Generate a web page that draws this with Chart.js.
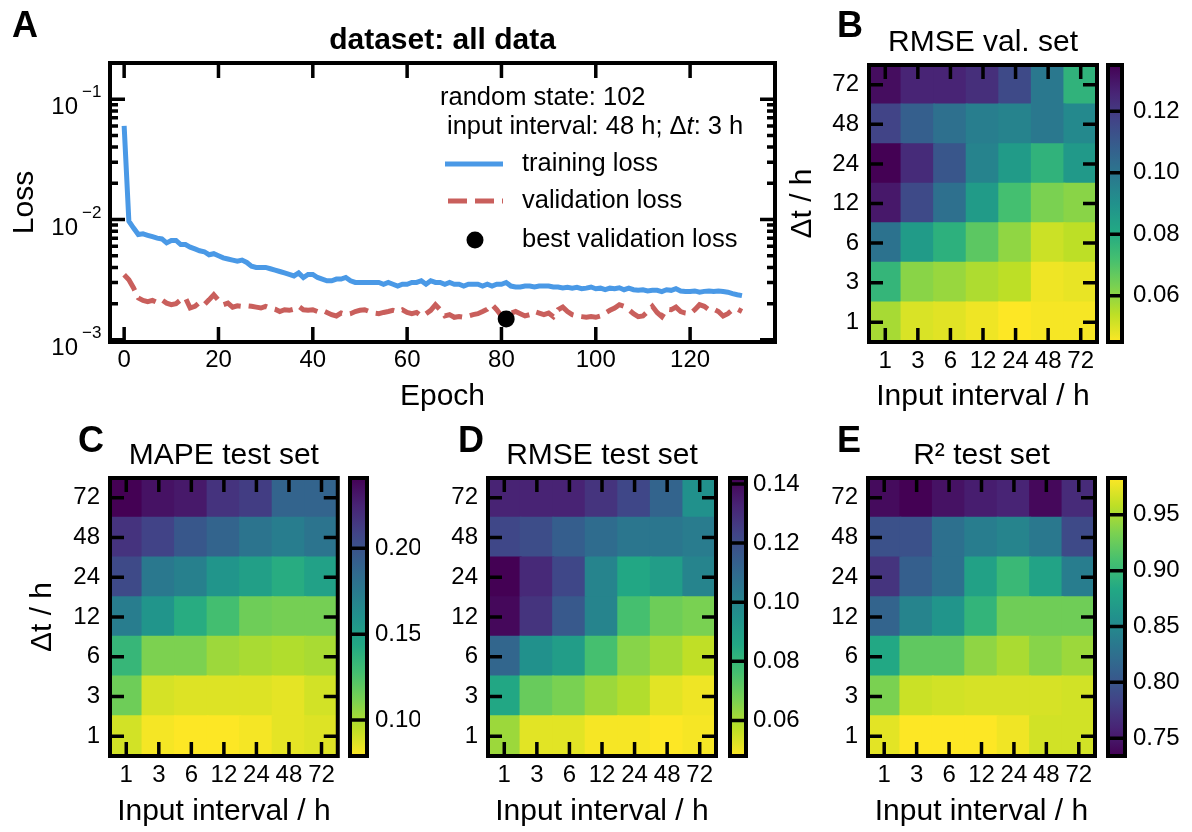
<!DOCTYPE html>
<html>
<head>
<meta charset="utf-8">
<script src="https://cdn.jsdelivr.net/npm/chart.js@4.4.1/dist/chart.umd.min.js"></script>
<style>
  body { margin: 0; background: #fff; }
  #fig { position: relative; width: 1192px; height: 832px; overflow: hidden; background: #fff; }
  #fig canvas { position: absolute; }
  .tag { position: absolute; font: bold 36px "Liberation Sans", Arial, sans-serif; line-height: 36px; color: #000; }
</style>
</head>
<body>
<div id="fig">
  <canvas id="lossChart" width="800" height="420" style="left:0;top:0"></canvas>
  <canvas id="heatB" width="320" height="420" style="left:780px;top:0"></canvas>
  <canvas id="barB" width="92" height="420" style="left:1100px;top:0"></canvas>
  <canvas id="heatC" width="320" height="412" style="left:20px;top:420px"></canvas>
  <canvas id="barC" width="80" height="412" style="left:340px;top:420px"></canvas>
  <canvas id="heatD" width="300" height="412" style="left:420px;top:420px"></canvas>
  <canvas id="barD" width="80" height="412" style="left:720px;top:420px"></canvas>
  <canvas id="heatE" width="298" height="412" style="left:800px;top:420px"></canvas>
  <canvas id="barE" width="94" height="412" style="left:1098px;top:420px"></canvas>
  <canvas id="overlay" width="1192" height="832" style="left:0;top:0;pointer-events:none"></canvas>
  <div class="tag" style="left:12px;top:7px">A</div>
  <div class="tag" style="left:837px;top:7px">B</div>
  <div class="tag" style="left:78px;top:422px">C</div>
  <div class="tag" style="left:458px;top:422px">D</div>
  <div class="tag" style="left:837px;top:422px">E</div>
</div>
<script>
// ---- panel A data: loss per epoch (epoch = index) ----
const trainLoss = [
  0.060, 0.0097, 0.0085, 0.0075, 0.0076, 0.0074, 0.0072, 0.0070, 0.0069, 0.0064,
  0.0067, 0.0067, 0.0062, 0.0062, 0.0059, 0.0057, 0.0055, 0.0054, 0.0051, 0.0052,
  0.0050, 0.0048, 0.0047, 0.0046, 0.0045, 0.0046, 0.0044, 0.0041, 0.0040, 0.0040,
  0.0040, 0.0039, 0.0038, 0.0037, 0.0036, 0.0035, 0.0034, 0.0036, 0.0033, 0.0035,
  0.0035, 0.0033, 0.0032, 0.0031, 0.0031, 0.0032, 0.0032, 0.0033, 0.0031, 0.0030,
  0.0030, 0.0030, 0.0030, 0.0030, 0.0030, 0.0029, 0.0030, 0.0029, 0.0028, 0.0029,
  0.0029, 0.0030, 0.0030, 0.0031, 0.0029, 0.0031, 0.0030, 0.0030, 0.0029, 0.0030,
  0.0029, 0.0029, 0.0028, 0.0029, 0.0029, 0.0029, 0.0028, 0.0029, 0.0028, 0.0029,
  0.0029, 0.0030, 0.0028, 0.00275, 0.00275, 0.0028, 0.0028, 0.00275, 0.0028, 0.0028,
  0.0028, 0.00275, 0.00275, 0.0027, 0.00273, 0.00269, 0.00273, 0.00266, 0.00269, 0.00275,
  0.00266, 0.00269, 0.00261, 0.00269, 0.00266, 0.00271, 0.00261, 0.00269, 0.00261, 0.00258,
  0.00261, 0.00255, 0.00258, 0.00258, 0.00252, 0.00261, 0.00258, 0.00266, 0.00255, 0.00252,
  0.00252, 0.00255, 0.00249, 0.00253, 0.00255, 0.00252, 0.00255, 0.00252, 0.00249, 0.00242,
  0.00237, 0.00233
];
const valLoss = [
  0.00348, 0.00316, 0.0027, 0.00223, 0.00213, 0.00208, 0.00213, 0.00205, 0.00215, 0.00202,
  0.00196, 0.0020, 0.00215, 0.00223, 0.00184, 0.0019, 0.00205, 0.00196, 0.00215, 0.00237,
  0.00213, 0.00196, 0.00202, 0.00187, 0.00192, 0.0019, 0.00192, 0.0019, 0.00187, 0.00184,
  0.0019, 0.00184, 0.0018, 0.00172, 0.00178, 0.00176, 0.0018, 0.0019, 0.00178, 0.00176,
  0.00178, 0.00172, 0.00176, 0.00169, 0.00162, 0.00158, 0.00167, 0.00162, 0.00165, 0.00172,
  0.00176, 0.00178, 0.00172, 0.00167, 0.00165, 0.00169, 0.00172, 0.00176, 0.00172, 0.00178,
  0.00169, 0.00165, 0.00169, 0.00158, 0.00165, 0.00176, 0.00196, 0.00178, 0.00158, 0.00162,
  0.00154, 0.00156, 0.00154, 0.00158, 0.00162, 0.00165, 0.00172, 0.0018, 0.00196, 0.00178,
  0.00158, 0.00149, 0.00167, 0.00172, 0.00165, 0.00158, 0.00162, 0.00172, 0.00167, 0.00162,
  0.00167, 0.00156, 0.00178, 0.00187, 0.00172, 0.00162, 0.00158, 0.00156, 0.00154, 0.00156,
  0.00154, 0.00158, 0.00167, 0.00176, 0.00184, 0.00196, 0.0019, 0.00178, 0.00165, 0.00156,
  0.00158, 0.00172, 0.0019, 0.00169, 0.00156, 0.0018, 0.00178, 0.00187, 0.00172, 0.00167,
  0.00165, 0.00178, 0.00196, 0.0019, 0.00178, 0.0018, 0.00172, 0.00158, 0.00165, 0.00178,
  0.0018, 0.00172
];
const epochTicks = [0, 20, 40, 60, 80, 100, 120];
const randomState = 102;
const chosenInterval = 48;
const chosenDeltaT = 3;

// ---- heatmap data: rows follow deltaT (1 h at the bottom), columns follow inputIntervals ----
const inputIntervals = ['1', '3', '6', '12', '24', '48', '72'];
const deltaT = ['1', '3', '6', '12', '24', '48', '72'];

const rmseVal = [
  [0.057, 0.050, 0.049, 0.047, 0.045, 0.046, 0.046],
  [0.076, 0.061, 0.059, 0.056, 0.054, 0.047, 0.048],
  [0.101, 0.086, 0.078, 0.068, 0.060, 0.052, 0.054],
  [0.129, 0.115, 0.102, 0.086, 0.072, 0.063, 0.061],
  [0.135, 0.124, 0.111, 0.095, 0.086, 0.077, 0.087],
  [0.117, 0.108, 0.102, 0.097, 0.095, 0.099, 0.093],
  [0.132, 0.126, 0.126, 0.123, 0.115, 0.099, 0.077]
];
const mapeTest = [
  [0.090, 0.081, 0.079, 0.079, 0.081, 0.085, 0.087],
  [0.115, 0.089, 0.087, 0.087, 0.087, 0.085, 0.090],
  [0.134, 0.111, 0.111, 0.103, 0.100, 0.098, 0.100],
  [0.173, 0.157, 0.141, 0.128, 0.115, 0.113, 0.113],
  [0.205, 0.176, 0.171, 0.157, 0.150, 0.141, 0.149],
  [0.217, 0.209, 0.197, 0.189, 0.179, 0.173, 0.179],
  [0.241, 0.233, 0.230, 0.217, 0.212, 0.189, 0.189]
];
const rmseTest = [
  [0.062, 0.052, 0.052, 0.049, 0.049, 0.048, 0.049],
  [0.086, 0.070, 0.067, 0.062, 0.059, 0.052, 0.050],
  [0.111, 0.095, 0.090, 0.076, 0.065, 0.061, 0.057],
  [0.140, 0.128, 0.116, 0.100, 0.076, 0.069, 0.067],
  [0.142, 0.131, 0.122, 0.100, 0.086, 0.090, 0.100],
  [0.122, 0.120, 0.114, 0.109, 0.105, 0.105, 0.103],
  [0.133, 0.133, 0.133, 0.128, 0.122, 0.112, 0.095]
];
const r2Test = [
  [0.973, 0.983, 0.983, 0.983, 0.978, 0.966, 0.966],
  [0.933, 0.963, 0.966, 0.968, 0.968, 0.968, 0.966],
  [0.883, 0.921, 0.921, 0.941, 0.951, 0.938, 0.946],
  [0.814, 0.846, 0.863, 0.896, 0.928, 0.928, 0.928],
  [0.771, 0.809, 0.826, 0.876, 0.901, 0.878, 0.839],
  [0.796, 0.796, 0.826, 0.839, 0.846, 0.834, 0.789],
  [0.741, 0.734, 0.746, 0.754, 0.759, 0.739, 0.764]
];
const rmseValTicks = [0.06, 0.08, 0.10, 0.12];
const mapeTicks = [0.10, 0.15, 0.20];
const rmseTestTicks = [0.06, 0.08, 0.10, 0.12, 0.14];
const r2Ticks = [0.75, 0.80, 0.85, 0.90, 0.95];

const FONT = '"Liberation Sans", Arial, sans-serif';
Chart.defaults.font.family = FONT;
Chart.defaults.color = '#000';

const VIRIDIS = ['#440154', '#482475', '#414487', '#355f8d', '#2a788e', '#21918c',
                 '#22a884', '#44bf70', '#7ad151', '#bddf26', '#fde725'];
function viridis(t) {
  t = Math.max(0, Math.min(1, t));
  const p = t * 10, i = Math.min(9, Math.floor(p)), f = p - i;
  const a = VIRIDIS[i], b = VIRIDIS[i + 1];
  const c = k => Math.round(parseInt(a.substr(k, 2), 16) * (1 - f) + parseInt(b.substr(k, 2), 16) * f);
  return 'rgb(' + c(1) + ',' + c(3) + ',' + c(5) + ')';
}

function isPow10(v) {
  const l = Math.log10(v);
  return Math.abs(l - Math.round(l)) < 1e-9;
}

// titles and 10^n labels, drawn on each chart's own canvas
function makeLabels() {
  return {
    id: 'labels',
    afterDraw(chart, args, opts) {
      const { ctx, chartArea: a } = chart;
      ctx.save();
      ctx.fillStyle = '#000';
      if (opts.logLabels) {
        const ys = chart.scales.y;
        ys.ticks.forEach((t, i) => {
          if (!isPow10(t.value)) return;
          const p = ys.getPixelForTick(i);
          ctx.textBaseline = 'alphabetic';
          ctx.textAlign = 'right';
          ctx.font = '24px ' + FONT;
          ctx.fillText('10', a.left - 32, p + 15);
          ctx.textAlign = 'left';
          ctx.font = '17px ' + FONT;
          ctx.fillText('\u2212' + (-Math.round(Math.log10(t.value))), a.left - 28, p - 2);
        });
      }
      if (opts.title) {
        ctx.font = (opts.bold ? 'bold ' : '') + '30px ' + FONT;
        ctx.textAlign = 'center';
        ctx.textBaseline = 'alphabetic';
        ctx.fillText(opts.title, (a.left + a.right) / 2, a.top - 14);
      }
      ctx.restore();
    }
  };
}

// frames, inward ticks and colour-bar tick lines go on one canvas above all charts
const framed = [];
function drawOverlay() {
  const ov = document.getElementById('overlay');
  const ctx = ov.getContext('2d');
  ctx.clearRect(0, 0, ov.width, ov.height);
  ctx.strokeStyle = '#000';
  ctx.lineCap = 'butt';
  framed.forEach(({ chart, kind, major, minor }) => {
    const ox = chart.canvas.offsetLeft, oy = chart.canvas.offsetTop;
    const a = chart.chartArea;
    const L = a.left + ox, R = a.right + ox, T = a.top + oy, B = a.bottom + oy;
    const xs = chart.scales.x, ys = chart.scales.y;
    ctx.lineWidth = 3.5;
    ctx.beginPath();
    if (kind === 'bar') {
      ys.ticks.forEach((t, i) => {
        const p = ys.getPixelForTick(i) + oy;
        ctx.moveTo(L, p); ctx.lineTo(R, p);
      });
    } else {
      xs.ticks.forEach((t, i) => {
        const p = xs.getPixelForTick(i) + ox;
        ctx.moveTo(p, B); ctx.lineTo(p, B - major);
        ctx.moveTo(p, T); ctx.lineTo(p, T + major);
      });
      ys.ticks.forEach((t, i) => {
        const p = ys.getPixelForTick(i) + oy;
        const len = (ys.type === 'logarithmic' && !isPow10(t.value)) ? minor : major;
        ctx.moveTo(L, p); ctx.lineTo(L + len, p);
        ctx.moveTo(R, p); ctx.lineTo(R - len, p);
      });
    }
    ctx.stroke();
    ctx.lineWidth = 4;
    ctx.strokeRect(L, T, R - L, B - T);
  });
}

// legend of panel A, drawn inside the plot area
const lossLegend = {
  id: 'lossLegend',
  afterDraw(chart) {
    const { ctx } = chart;
    const ds = chart.data.datasets;
    const tr = ds.find(d => d.label === 'training loss');
    const va = ds.find(d => d.label === 'validation loss');
    const be = ds.find(d => d.label === 'best validation loss');
    ctx.save();
    ctx.fillStyle = '#000';
    ctx.textBaseline = 'middle';
    ctx.textAlign = 'left';
    const f = '25.5px ' + FONT;
    ctx.font = f;
    ctx.fillText('random state: ' + randomState, 440, 98);
    let x = 447;
    [['input interval: ' + chosenInterval + ' h; Δ', false], ['t', true], [': ' + chosenDeltaT + ' h', false]]
      .forEach(([s, it]) => {
        ctx.font = (it ? 'italic ' : '') + f;
        ctx.fillText(s, x, 127);
        x += ctx.measureText(s).width;
      });
    ctx.font = f;
    ctx.lineWidth = tr.borderWidth;
    ctx.strokeStyle = tr.borderColor;
    ctx.beginPath(); ctx.moveTo(445, 164); ctx.lineTo(503, 164); ctx.stroke();
    ctx.strokeStyle = va.borderColor;
    ctx.setLineDash(va.borderDash);
    ctx.beginPath(); ctx.moveTo(448, 201); ctx.lineTo(503, 201); ctx.stroke();
    ctx.setLineDash([]);
    ctx.fillStyle = be.backgroundColor;
    ctx.beginPath(); ctx.arc(475, 240, be.pointRadius, 0, Math.PI * 2); ctx.fill();
    ctx.fillStyle = '#000';
    ctx.fillText(tr.label, 522, 164);
    ctx.fillText(va.label, 522, 201);
    ctx.fillText(be.label, 522, 240);
    ctx.restore();
  }
};

// ---- panel A ----
let bestIdx = 0;
valLoss.forEach((v, i) => { if (v < valLoss[bestIdx]) bestIdx = i; });

const lossChart = new Chart(document.getElementById('lossChart'), {
  type: 'line',
  data: {
    datasets: [
      {
        label: 'best validation loss',
        data: [{ x: bestIdx, y: valLoss[bestIdx] }],
        showLine: false, pointRadius: 8.5, pointBackgroundColor: '#000', backgroundColor: '#000',
        pointBorderWidth: 0, order: 0
      },
      {
        label: 'training loss',
        data: trainLoss.map((v, i) => ({ x: i, y: v })),
        borderColor: '#4a99e6', borderWidth: 5, pointRadius: 0, tension: 0, order: 1
      },
      {
        label: 'validation loss',
        data: valLoss.map((v, i) => ({ x: i, y: v })),
        borderColor: '#c95f5c', borderWidth: 5, borderDash: [19, 8], pointRadius: 0, tension: 0, order: 2
      }
    ]
  },
  options: {
    responsive: false,
    animation: false,
    layout: { padding: { top: 63, right: 25, left: 0, bottom: 0 } },
    plugins: {
      legend: { display: false },
      tooltip: { enabled: false },
      labels: { title: 'dataset: all data', bold: true, logLabels: true }
    },
    scales: {
      x: {
        type: 'linear', min: -3, max: 138,
        afterBuildTicks: s => { s.ticks = epochTicks.map(v => ({ value: v })); },
        grid: { display: false, drawTicks: false },
        border: { display: false },
        ticks: { autoSkip: false, maxRotation: 0, padding: 4, font: { size: 24 } },
        title: { display: true, text: 'Epoch', font: { size: 30 }, padding: { top: 0, bottom: 5 } },
        afterFit: s => { s.height = 78; }
      },
      y: {
        type: 'logarithmic', min: 0.00096, max: 0.2,
        afterBuildTicks: s => {
          const t = [];
          for (let e = -4; e <= -1; e++) {
            for (let m = 1; m <= 9; m++) {
              const v = m * Math.pow(10, e);
              if (v >= s.min && v <= s.max) t.push({ value: v });
            }
          }
          s.ticks = t;
        },
        grid: { display: false, drawTicks: false },
        border: { display: false },
        ticks: { display: false, autoSkip: false },
        title: { display: true, text: 'Loss', font: { size: 30 }, padding: { top: 7, bottom: 0 } },
        afterFit: s => { s.width = 110; }
      }
    }
  },
  plugins: [makeLabels(), lossLegend]
});
framed.push({ chart: lossChart, kind: 'plot', major: 15, minor: 8 });

// ---- heatmaps and colour bars ----
function heatmap(id, values, reversed, o) {
  const flat = values.flat();
  const vmin = Math.min(...flat), vmax = Math.max(...flat);
  const cmap = t => viridis(reversed ? 1 - t : t);
  const color = v => cmap((v - vmin) / (vmax - vmin));

  const heat = new Chart(document.getElementById(id), {
    type: 'bar',
    data: {
      labels: inputIntervals,
      datasets: deltaT.map((dt, r) => ({
        label: 'Δt ' + dt,
        data: inputIntervals.map(() => [r, r + 1]),
        backgroundColor: values[r].map(color),
        borderWidth: 0, barPercentage: 1, categoryPercentage: 1, grouped: false, inflateAmount: 1
      }))
    },
    options: {
      responsive: false,
      animation: false,
      layout: { padding: { top: o.top, right: o.right, left: 0, bottom: 0 } },
      plugins: {
        legend: { display: false },
        tooltip: { enabled: false },
        labels: { title: o.title }
      },
      scales: {
        x: {
          grid: { display: false, drawTicks: false },
          border: { display: false },
          ticks: { autoSkip: false, maxRotation: 0, padding: 5, font: { size: 24 } },
          title: { display: true, text: 'Input interval / h', font: { size: 30 }, padding: { top: 0, bottom: o.xpb } },
          afterFit: s => { s.height = o.xh; }
        },
        y: {
          min: 0, max: 7,
          afterBuildTicks: s => { s.ticks = deltaT.map((_, i) => ({ value: i + 0.5 })); },
          grid: { display: false, drawTicks: false },
          border: { display: false },
          ticks: { autoSkip: false, padding: 10, font: { size: 24 }, callback: (v, i) => deltaT[i] },
          title: { display: !!o.ytitle, text: 'Δt / h', font: { size: 30 }, padding: { top: 5, bottom: 0 } },
          afterFit: s => { s.width = o.yw; }
        }
      }
    },
    plugins: [makeLabels()]
  });
  framed.push({ chart: heat, kind: 'plot', major: 14, minor: 14 });

  const cb = o.bar;
  const bar = new Chart(document.getElementById(cb.id), {
    type: 'bar',
    data: {
      labels: [''],
      datasets: [{
        data: [[vmin, vmax]],
        backgroundColor: c => {
          const ch = c.chart, ys = ch.scales.y;
          if (!ch.chartArea || !ys) return '#888';
          const g = ch.ctx.createLinearGradient(0, ys.getPixelForValue(vmin), 0, ys.getPixelForValue(vmax));
          for (let k = 0; k <= 20; k++) g.addColorStop(k / 20, cmap(k / 20));
          return g;
        },
        borderWidth: 0, barPercentage: 1, categoryPercentage: 1, inflateAmount: 1
      }]
    },
    options: {
      responsive: false,
      animation: false,
      layout: { padding: { top: o.top, left: cb.left, right: 0, bottom: cb.bottom } },
      plugins: { legend: { display: false }, tooltip: { enabled: false } },
      scales: {
        x: { display: false },
        y: {
          position: 'right', min: vmin, max: vmax,
          afterBuildTicks: s => { s.ticks = cb.ticks.map(v => ({ value: v })); },
          grid: { display: false, drawTicks: false },
          border: { display: false },
          ticks: { autoSkip: false, padding: cb.pad, font: { size: 24 }, callback: v => v.toFixed(2) },
          afterFit: s => { s.width = cb.w; }
        }
      }
    }
  });
  framed.push({ chart: bar, kind: 'bar' });
}

heatmap('heatB', rmseVal, true, {
  title: 'RMSE val. set', top: 65, right: 3, yw: 89, xh: 78, xpb: 5, ytitle: true,
  bar: { id: 'barB', left: 8, w: 70, bottom: 78, pad: 11, ticks: rmseValTicks }
});
heatmap('heatC', mapeTest, true, {
  title: 'MAPE test set', top: 58, right: 2, yw: 90, xh: 76, xpb: 2, ytitle: true,
  bar: { id: 'barC', left: 10, w: 53, bottom: 76, pad: 8, ticks: mapeTicks }
});
heatmap('heatD', rmseTest, true, {
  title: 'RMSE test set', top: 58, right: 4, yw: 68, xh: 76, xpb: 2, ytitle: false,
  bar: { id: 'barD', left: 10, w: 54, bottom: 76, pad: 7, ticks: rmseTestTicks }
});
heatmap('heatE', r2Test, false, {
  title: 'R² test set', top: 58, right: 3, yw: 68, xh: 76, xpb: 2, ytitle: false,
  bar: { id: 'barE', left: 10, w: 67, bottom: 76, pad: 8, ticks: r2Ticks }
});

drawOverlay();
requestAnimationFrame(drawOverlay);
</script>
</body>
</html>
